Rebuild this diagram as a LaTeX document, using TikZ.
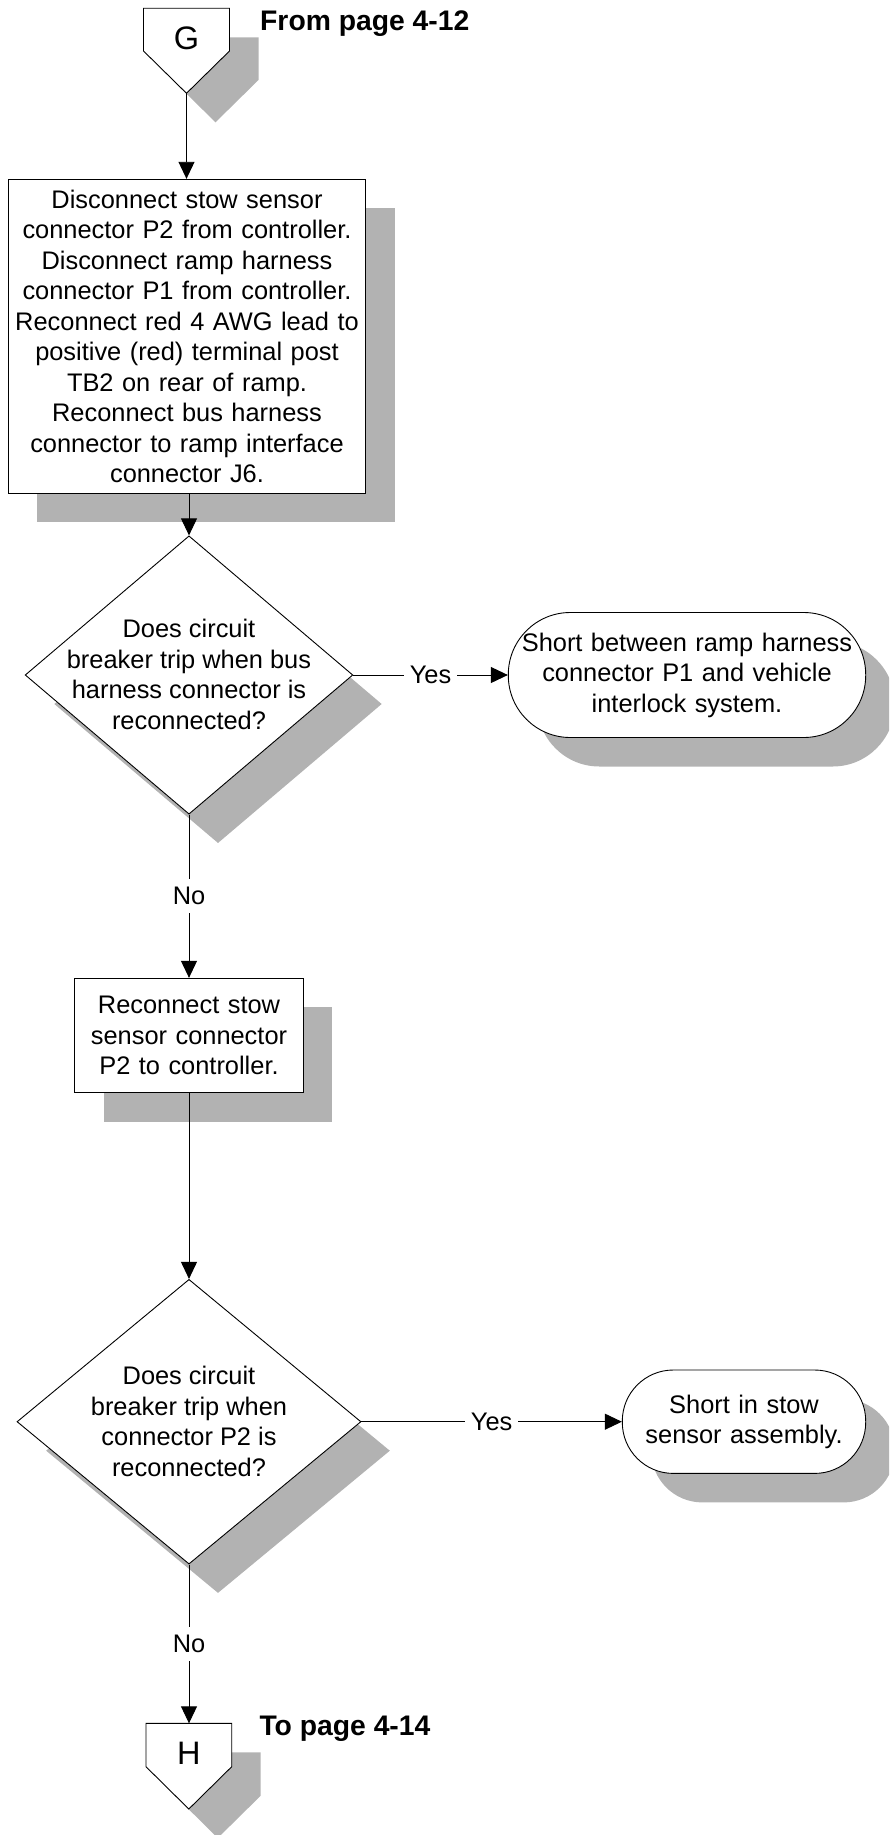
\documentclass[tikz,border=0pt]{standalone}
\usepackage{fontspec}
\setmainfont{Liberation Sans}
\usetikzlibrary{arrows.meta,shapes.geometric,shadows}
\definecolor{shgray}{RGB}{178,178,178}
\begin{document}
\begin{tikzpicture}[x=1pt,y=-1pt,
  font=\fontsize{25.4pt}{30.5pt}\selectfont,
  shad/.style={drop shadow={shadow xshift=29pt,shadow yshift=-29pt,fill=shgray,opacity=1}},
  procbox/.style={draw=black,line width=0.9pt,fill=white,shad,rectangle,inner sep=0pt,align=center},
  decision/.style={draw=black,line width=0.9pt,fill=white,shad,diamond,inner sep=0pt},
  term/.style={draw=black,line width=0.9pt,fill=white,shad,rectangle,inner sep=0pt,align=center},
  txt/.style={align=center,inner sep=0pt},
  conn/.style={line width=0.9pt,-{Triangle[length=17pt,width=16pt]}},
  lab/.style={fill=white,inner xsep=6pt,inner ysep=8pt},
  pagelbl/.style={font=\fontsize{28.3pt}{34pt}\selectfont\bfseries,inner sep=0pt,anchor=base west},
  letter/.style={font=\fontsize{32.5pt}{38pt}\selectfont,inner sep=0pt},
  offpage/.style={draw=black,line width=0.9pt,fill=white}
]
\useasboundingbox (0,0) rectangle (889,1835);
\clip (0,0) rectangle (889,1835);

% Off-page connector G
\fill[shgray] (172.5,37.3) -- (258.5,37.3) -- (258.5,80) -- (215.5,122.3) -- (172.5,80) -- cycle;
\draw[offpage] (143.5,8.3) -- (229.5,8.3) -- (229.5,51) -- (186.5,93.3) -- (143.5,51) -- cycle;
\node[letter] (G) at (186.5,38.7) {G};
\coordinate (Gtip) at (186.5,93.3);
\node[pagelbl] (from) at (260,30.7) {From page 4-12};

% Process box 1
\node[procbox, minimum width=357.4pt, minimum height=314pt, text width=350pt] (b1) at (187,336.3)
  {Disconnect stow sensor\\connector P2 from controller.\\Disconnect ramp harness\\connector P1 from controller.\\Reconnect red 4 AWG lead to\\positive (red) terminal post\\TB2 on rear of ramp.\\Reconnect bus harness\\connector to ramp interface\\connector J6.};

% Decision 1
\node[decision, minimum width=327.7pt, minimum height=278.3pt] (d1) at (189,675) {};
\node[txt] (d1t) at (189,674.5) {Does circuit\\breaker trip when bus\\harness connector is\\reconnected?};

% Terminal 1
\node[term, rounded corners=62pt, minimum width=357.4pt, minimum height=125pt, text width=345pt] (t1) at (687,675)
  {Short between ramp harness\\connector P1 and vehicle\\interlock system.};

% Process box 2
\node[procbox, minimum width=228.7pt, minimum height=114.4pt, text width=225pt] (b2) at (189,1035.5)
  {Reconnect stow\\sensor connector\\P2 to controller.};

% Decision 2
\node[decision, minimum width=344pt, minimum height=284.7pt] (d2) at (189,1421.7) {};
\node[txt] (d2t) at (189,1421.2) {Does circuit\\breaker trip when\\connector P2 is\\reconnected?};

% Terminal 2
\node[term, rounded corners=51pt, minimum width=243.4pt, minimum height=103.4pt, text width=235pt] (t2) at (744,1421.7)
  {Short in stow\\sensor assembly.};

% Off-page connector H
\fill[shgray] (175,1752.3) -- (260.7,1752.3) -- (260.7,1795.7) -- (217.8,1838) -- (175,1795.7) -- cycle;
\draw[offpage] (146,1723.3) -- (231.7,1723.3) -- (231.7,1766.7) -- (188.8,1809) -- (146,1766.7) -- cycle;
\node[letter] (H) at (188.8,1753.3) {H};
\coordinate (Htop) at (189,1723.3);
\node[pagelbl] (to) at (259.3,1735.7) {To page 4-14};

% Connectors
\draw[conn] (Gtip) -- (Gtip |- b1.north);
\draw[conn] (d1.north |- b1.south) -- (d1.north);
\draw[conn] (d1.east) -- node[lab] {Yes} (t1.west);
\draw[conn] (d1.south) -- node[lab] {No} (b2.north);
\draw[conn] (b2.south) -- (d2.north);
\draw[conn] (d2.east) -- node[lab] {Yes} (t2.west);
\draw[conn] (d2.south) -- node[lab] {No} (Htop);
\end{tikzpicture}
\end{document}
